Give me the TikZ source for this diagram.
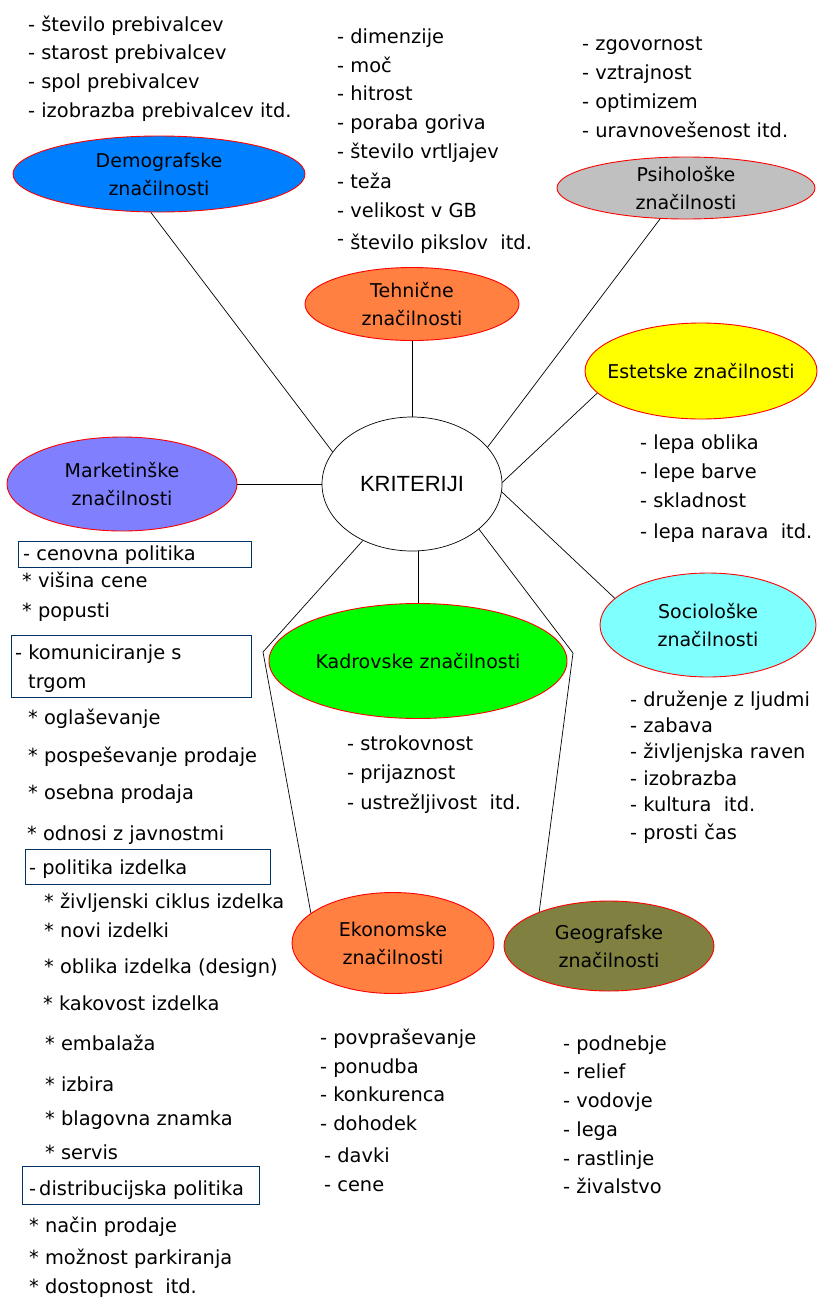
\documentclass[tikz,border=0pt]{standalone}
\usepackage{fontspec}
\setmainfont{DejaVu Sans}
\newfontfamily\kritfont{Liberation Sans}
\usetikzlibrary{shapes.geometric}
\definecolor{cdemo}{RGB}{0,128,255}
\definecolor{corange}{RGB}{255,128,64}
\definecolor{cgray}{RGB}{192,192,192}
\definecolor{cyell}{RGB}{255,255,0}
\definecolor{ccyan}{RGB}{128,255,255}
\definecolor{cviolet}{RGB}{128,128,255}
\definecolor{cgreen}{RGB}{0,255,0}
\definecolor{colive}{RGB}{128,128,64}
\definecolor{boxblue}{RGB}{0,51,102}
\begin{document}
\begin{tikzpicture}[x=1pt,y=-1pt,
  ell/.style={ellipse, draw=red, line width=0.9pt, inner sep=0pt, align=center,
    font=\fontsize{19}{28}\selectfont},
  item/.style={anchor=base west, inner sep=0pt, font=\fontsize{19.4}{23}\selectfont},
  conn/.style={draw=black, line width=0.7pt},
  framebox/.style={draw=boxblue, line width=1pt, rectangle, inner sep=0pt, anchor=north west}]
\fill[white] (0,0) rectangle (825,1299);
\path[use as bounding box] (0,0) rectangle (825,1299);

% ellipses
\node[ell, fill=cdemo, minimum width=292pt, minimum height=76pt] (demo) at (159,174) {Demografske\\značilnosti};
\node[ell, fill=corange, minimum width=214pt, minimum height=73pt] (tech) at (412,304) {Tehnične\\značilnosti};
\node[ell, fill=cgray, minimum width=258pt, minimum height=62pt] (psih) at (686,188) {Psihološke\\značilnosti};
\node[ell, fill=cyell, minimum width=232pt, minimum height=96pt, inner xsep=-30pt] (este) at (701,371) {Estetske značilnosti};
\node[ell, fill=ccyan, minimum width=216pt, minimum height=104pt] (soc) at (708,625) {Sociološke\\značilnosti};
\node[ell, fill=cviolet, minimum width=230pt, minimum height=94pt] (mark) at (122,484) {Marketinške\\značilnosti};
\node[ellipse, draw=black, line width=0.7pt, inner sep=0pt, fill=white, minimum width=180pt, minimum height=134pt,
      font=\kritfont\fontsize{22}{26}\selectfont] (krit) at (412,484) {KRITERIJI};
\node[ell, fill=cgreen, minimum width=298pt, minimum height=115pt, inner xsep=-10pt] (kad) at (418,661) {Kadrovske značilnosti};
\node[ell, fill=corange, minimum width=202pt, minimum height=101pt] (eko) at (393,943) {Ekonomske\\značilnosti};
\node[ell, fill=colive, minimum width=210pt, minimum height=90pt] (geo) at (609,946) {Geografske\\značilnosti};

\coordinate (bl) at (263,652);
\coordinate (br) at (573,653);

% connectors
\draw[conn] (demo.-102.4) -- (krit.158);
\draw[conn] (tech.south) -- (krit.north);
\draw[conn] (psih.-130.2) -- (krit.26.6);
\draw[conn] (este.-168.8) -- (krit.1.3);
\draw[conn] (soc.164.4) -- (krit.-5.1);
\draw[conn] (mark.east) -- (krit.west);
\draw[conn] (kad.north |- krit.south) -- (kad.north);
\draw[conn] (krit.-131.8) -- (bl) -- (eko.160.3);
\draw[conn] (krit.-34.5) -- (br) -- (geo.154.7);

% frame boxes
\node[framebox, minimum width=233pt, minimum height=26pt] (b1) at (18,541) {};
\node[framebox, minimum width=240pt, minimum height=62pt] (b2) at (11,635) {};
\node[framebox, minimum width=245pt, minimum height=35pt] (b3) at (25,849) {};
\node[framebox, minimum width=237pt, minimum height=38pt] (b4) at (22,1166) {};

% Demografske list
\foreach \y/\t [count=\i] in {31/{- število prebivalcev}, 59/{- starost prebivalcev},
  88/{- spol prebivalcev}, 117/{- izobrazba prebivalcev itd.}}
  \node[item] (dm\i) at (28,\y) {\t};

% Tehnicne list
\foreach \y/\t [count=\i] in {43/{- dimenzije}, 72/{- moč}, 100/{- hitrost},
  129/{- poraba goriva}, 158/{- število vrtljajev}, 188/{- teža}, 217/{- velikost v GB}}
  \node[item] (th\i) at (337,\y) {\t};
\node[item] (th8) at (337,249) {\raisebox{4pt}{-} število pikslov~ itd.};

% Psiholoske list
\foreach \y/\t [count=\i] in {50/{- zgovornost}, 79/{- vztrajnost}, 108/{- optimizem},
  137/{- uravnovešenost itd.}}
  \node[item] (ps\i) at (582,\y) {\t};

% Estetske list
\foreach \y/\t [count=\i] in {449/{- lepa oblika}, 478/{- lepe barve}, 507/{- skladnost},
  538/{- lepa narava~ itd.}}
  \node[item] (es\i) at (640,\y) {\t};

% Socioloske list
\foreach \y/\t [count=\i] in {706/{- druženje z ljudmi}, 732/{- zabava}, 758/{- življenjska raven},
  785/{- izobrazba}, 811/{- kultura~ itd.}, 839/{- prosti čas}}
  \node[item] (so\i) at (630,\y) {\t};

% Kadrovske list
\foreach \y/\t [count=\i] in {750/{- strokovnost}, 779/{- prijaznost}, 809/{- ustrežljivost~ itd.}}
  \node[item] (ka\i) at (347,\y) {\t};

% Ekonomske list
\foreach \x/\y/\t [count=\i] in {320/1044/{- povpraševanje}, 320/1073/{- ponudba},
  320/1101/{- konkurenca}, 320/1130/{- dohodek}, 324/1162/{- davki}, 324/1191/{- cene}}
  \node[item] (ek\i) at (\x,\y) {\t};

% Geografske list
\foreach \y/\t [count=\i] in {1050/{- podnebje}, 1078/{- relief}, 1107/{- vodovje},
  1136/{- lega}, 1165/{- rastlinje}, 1193/{- živalstvo}}
  \node[item] (ge\i) at (563,\y) {\t};

% Marketinske list
\foreach \x/\y/\t [count=\i] in {23/560/{- cenovna politika}, 22/587/{* višina cene},
  22/617/{* popusti}, 15/659/{- komuniciranje s}, 28/688/{trgom},
  28/724/{* oglaševanje}, 28/762/{* pospeševanje prodaje}, 28/799/{* osebna prodaja},
  27/840/{* odnosi z javnostmi}, 29/874/{- politika izdelka},
  44/908/{* življenski ciklus izdelka}, 44/937/{* novi izdelki},
  44/973/{* oblika izdelka (design)}, 43/1010/{* kakovost izdelka},
  45/1050/{* embalaža}, 45/1091/{* izbira}, 45/1125/{* blagovna znamka},
  45/1159/{* servis}, 29/1195/{-\hspace{3pt}distribucijska politika},
  29/1232/{* način prodaje}, 29/1264/{* možnost parkiranja}, 29/1293/{* dostopnost~ itd.}}
  \node[item] (mk\i) at (\x,\y) {\t};
\end{tikzpicture}
\end{document}
